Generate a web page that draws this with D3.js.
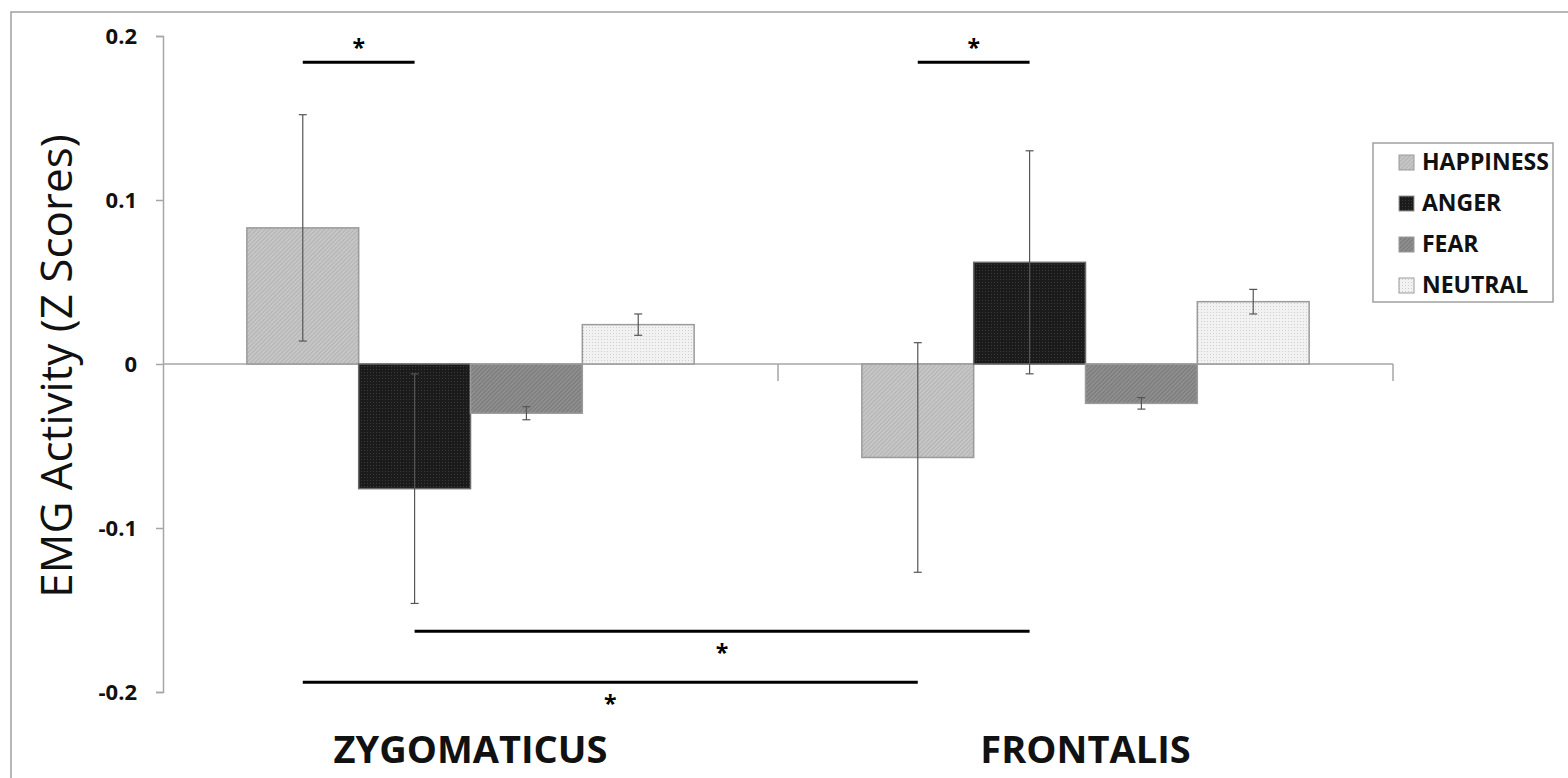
<!DOCTYPE html>
<html>
<head>
<meta charset="utf-8">
<script src="https://cdnjs.cloudflare.com/ajax/libs/d3/7.8.5/d3.min.js"></script>
<style>
  body { margin: 0; background: #fff; }
  text { font-family: "Open Sans", "DejaVu Sans", sans-serif; }
</style>
</head>
<body>
<div id="chart"></div>
<script>
// chart data
var muscles = ["ZYGOMATICUS", "FRONTALIS"];
var emotions = ["HAPPINESS", "ANGER", "FEAR", "NEUTRAL"];

// mean z scores, one value per muscle
var happinessMeans = [0.083, -0.057];
var angerMeans = [-0.076, 0.062];
var fearMeans = [-0.030, -0.024];
var neutralMeans = [0.024, 0.038];

// standard errors, one value per muscle
var happinessErr = [0.069, 0.070];
var angerErr = [0.070, 0.068];
var fearErr = [0.004, 0.0035];
var neutralErr = [0.0065, 0.0075];

var yTicks = [-0.2, -0.1, 0, 0.1, 0.2];

// significance bars: [muscle, emotion] -> [muscle, emotion] at a y value
var sigFrom = [[0, "HAPPINESS"], [1, "HAPPINESS"], [0, "ANGER"], [0, "HAPPINESS"]];
var sigTo = [[0, "ANGER"], [1, "ANGER"], [1, "ANGER"], [1, "HAPPINESS"]];
var sigLevel = [0.184, 0.184, -0.163, -0.194];
var sigStarAbove = [true, true, false, false];

var meansByEmotion = {
  HAPPINESS: happinessMeans, ANGER: angerMeans, FEAR: fearMeans, NEUTRAL: neutralMeans
};
var errByEmotion = {
  HAPPINESS: happinessErr, ANGER: angerErr, FEAR: fearErr, NEUTRAL: neutralErr
};

var svgWidth = 1568;
var svgHeight = 778;

var svg = d3.select("#chart")
  .append("svg")
  .attr("width", svgWidth)
  .attr("height", svgHeight);

// frame around the figure
svg.append("path")
  .attr("d", "M11,778 L11,12 L1568,12")
  .attr("fill", "none")
  .attr("stroke", "#a0a0a0")
  .attr("stroke-width", 1.5);

// bar textures
var defs = svg.append("defs");

function hatch(id, base, line, step) {
  var p = defs.append("pattern")
    .attr("id", id)
    .attr("patternUnits", "userSpaceOnUse")
    .attr("width", step)
    .attr("height", step)
    .attr("patternTransform", "rotate(45)");
  p.append("rect").attr("width", step).attr("height", step).attr("fill", base);
  p.append("line")
    .attr("x1", 0).attr("y1", 0).attr("x2", 0).attr("y2", step)
    .attr("stroke", line).attr("stroke-width", 1.2);
}
hatch("pat-HAPPINESS", "#c6c6c6", "#a6a6a6", 3);
hatch("pat-FEAR", "#8e8e8e", "#6a6a6a", 3);

var grid = defs.append("pattern")
  .attr("id", "pat-ANGER")
  .attr("patternUnits", "userSpaceOnUse")
  .attr("width", 3).attr("height", 3);
grid.append("rect").attr("width", 3).attr("height", 3).attr("fill", "#1b1b1b");
grid.append("rect").attr("width", 1).attr("height", 1).attr("fill", "#3a3a3a");

var dots = defs.append("pattern")
  .attr("id", "pat-NEUTRAL")
  .attr("patternUnits", "userSpaceOnUse")
  .attr("width", 3).attr("height", 3);
dots.append("rect").attr("width", 3).attr("height", 3).attr("fill", "#f2f2f2");
dots.append("rect").attr("width", 1).attr("height", 1).attr("fill", "#cfcfcf");

// scales
var x0 = d3.scaleBand()
  .domain(muscles)
  .range([163, 1393]);

var x1 = d3.scaleBand()
  .domain(emotions)
  .range([0, x0.bandwidth()])
  .paddingOuter(0.75);

var y = d3.scaleLinear()
  .domain([-0.2, 0.2])
  .range([692, 36]);

// y axis
var yAxis = svg.append("g")
  .attr("transform", "translate(163,0)")
  .call(d3.axisLeft(y)
    .tickValues(yTicks)
    .tickSize(7)
    .tickPadding(19)
    .tickFormat(d => d === 0 ? "0" : (d < 0 ? "-" : "") + Math.abs(d).toFixed(1)));

yAxis.select(".domain").attr("stroke", "#a6a6a6").attr("stroke-width", 1.5);
yAxis.selectAll(".tick line").attr("stroke", "#a6a6a6").attr("stroke-width", 1.5);
yAxis.selectAll(".tick text")
  .attr("font-family", "'Open Sans', sans-serif")
  .attr("font-size", 22)
  .attr("font-weight", "bold")
  .attr("fill", "#111");

// zero line with ticks between categories
svg.append("line")
  .attr("x1", x0.range()[0]).attr("x2", x0.range()[1])
  .attr("y1", y(0)).attr("y2", y(0))
  .attr("stroke", "#a6a6a6")
  .attr("stroke-width", 1.5);

svg.selectAll(".cat-tick")
  .data(muscles)
  .enter()
  .append("line")
  .attr("class", "cat-tick")
  .attr("x1", d => x0(d) + x0.bandwidth())
  .attr("x2", d => x0(d) + x0.bandwidth())
  .attr("y1", y(0))
  .attr("y2", y(0) + 17)
  .attr("stroke", "#a6a6a6")
  .attr("stroke-width", 1.5);

// flatten data for bars
var rows = [];
muscles.forEach(function(m, i) {
  emotions.forEach(function(e) {
    rows.push({ muscle: m, emotion: e, value: meansByEmotion[e][i], err: errByEmotion[e][i] });
  });
});

var groups = svg.selectAll(".muscle")
  .data(muscles)
  .enter()
  .append("g")
  .attr("class", "muscle")
  .attr("transform", d => `translate(${x0(d)},0)`);

groups.selectAll("rect")
  .data(m => rows.filter(r => r.muscle === m))
  .enter()
  .append("rect")
  .attr("x", d => x1(d.emotion))
  .attr("y", d => y(Math.max(0, d.value)))
  .attr("width", x1.bandwidth())
  .attr("height", d => Math.abs(y(d.value) - y(0)))
  .attr("fill", d => `url(#pat-${d.emotion})`)
  .attr("stroke", d => d.emotion === "ANGER" ? "#6a6a6a" : "#9a9a9a")
  .attr("stroke-width", 1.5);

// error bars
var errG = groups.selectAll(".err")
  .data(m => rows.filter(r => r.muscle === m))
  .enter()
  .append("g")
  .attr("class", "err")
  .attr("stroke", "#555")
  .attr("stroke-width", 1.2);

errG.append("line")
  .attr("x1", d => x1(d.emotion) + x1.bandwidth() / 2)
  .attr("x2", d => x1(d.emotion) + x1.bandwidth() / 2)
  .attr("y1", d => y(d.value + d.err))
  .attr("y2", d => y(d.value - d.err));

errG.selectAll(".cap")
  .data(d => [d.value + d.err, d.value - d.err].map(v => ({ emotion: d.emotion, v: v })))
  .enter()
  .append("line")
  .attr("class", "cap")
  .attr("x1", d => x1(d.emotion) + x1.bandwidth() / 2 - 4)
  .attr("x2", d => x1(d.emotion) + x1.bandwidth() / 2 + 4)
  .attr("y1", d => y(d.v))
  .attr("y2", d => y(d.v));

// significance lines and stars
function barCenter(ref) {
  var m = muscles[ref[0]];
  return x0(m) + x1(ref[1]) + x1.bandwidth() / 2;
}

sigLevel.forEach(function(lvl, i) {
  var xa = barCenter(sigFrom[i]);
  var xb = barCenter(sigTo[i]);
  svg.append("line")
    .attr("x1", xa).attr("x2", xb)
    .attr("y1", y(lvl)).attr("y2", y(lvl))
    .attr("stroke", "#000")
    .attr("stroke-width", 3);
  svg.append("text")
    .attr("x", (xa + xb) / 2)
    .attr("y", sigStarAbove[i] ? y(lvl) - 6 : y(lvl) + 30)
    .attr("text-anchor", "middle")
    .attr("font-size", 23)
    .attr("font-weight", "bold")
    .text("*");
});

// category labels
svg.selectAll(".cat-label")
  .data(muscles)
  .enter()
  .append("text")
  .attr("class", "cat-label")
  .attr("x", d => x0(d) + x0.bandwidth() / 2)
  .attr("y", 763)
  .attr("text-anchor", "middle")
  .attr("font-size", 38)
  .attr("font-weight", "bold")
  .attr("fill", "#111")
  .text(d => d);

// y axis title
svg.append("text")
  .attr("transform", `translate(72, 366) rotate(-90)`)
  .attr("text-anchor", "middle")
  .attr("font-size", 44)
  .attr("fill", "#111")
  .text("EMG Activity (Z Scores)");

// legend
var legend = svg.append("g");
legend.append("rect")
  .attr("x", 1373).attr("y", 143)
  .attr("width", 180).attr("height", 159)
  .attr("fill", "#fff")
  .attr("stroke", "#a0a0a0")
  .attr("stroke-width", 1.5);

var items = legend.selectAll(".item")
  .data(emotions)
  .enter()
  .append("g")
  .attr("class", "item")
  .attr("transform", (d, i) => `translate(1399, ${162 + i * 41})`);

items.append("rect")
  .attr("x", 0).attr("y", -7)
  .attr("width", 15).attr("height", 15)
  .attr("fill", d => `url(#pat-${d})`)
  .attr("stroke", "#9a9a9a")
  .attr("stroke-width", 1);

items.append("text")
  .attr("x", 23)
  .attr("y", 0)
  .attr("dy", "0.36em")
  .attr("font-size", 23)
  .attr("font-weight", "bold")
  .attr("fill", "#111")
  .text(d => d);
</script>
</body>
</html>
